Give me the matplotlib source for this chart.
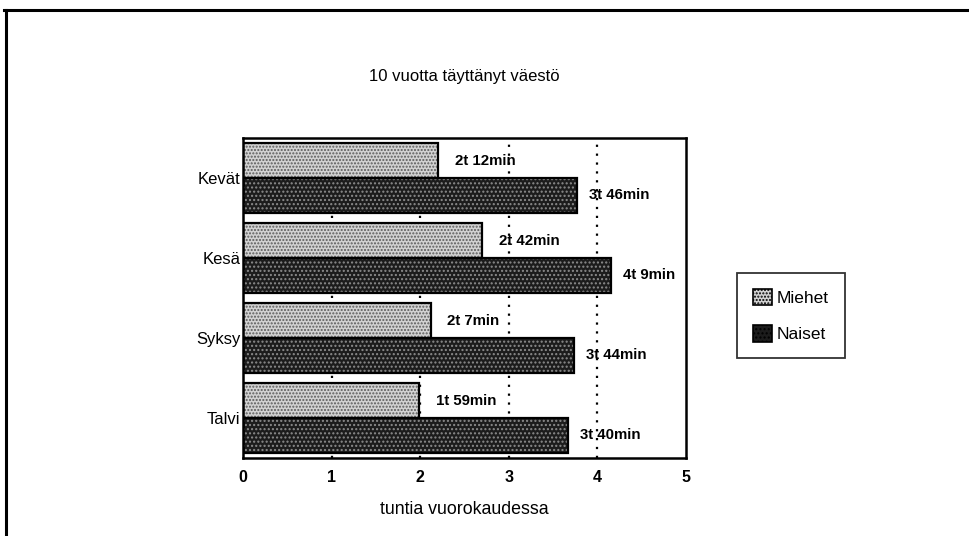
import matplotlib
matplotlib.use("Agg")
import matplotlib.pyplot as plt
from matplotlib.lines import Line2D
from matplotlib.patches import Patch
import numpy as np

plt.rcParams['font.family'] = ['Liberation Sans', 'DejaVu Sans']
plt.rcParams['hatch.linewidth'] = 1.0

categories = ["Kevät", "Kesä", "Syksy", "Talvi"]
miehet = [2.2, 2.7, 2.117, 1.983]
naiset = [3.767, 4.15, 3.733, 3.667]
miehet_labels = ["2t 12min", "2t 42min", "2t 7min", "1t 59min"]
naiset_labels = ["3t 46min", "4t 9min", "3t 44min", "3t 40min"]
xticks = [0, 1, 2, 3, 4, 5]

fig = plt.figure(figsize=(9.69, 5.36), dpi=100)
ax = fig.add_axes([243/969, 1-458/536, 443/969, 320/536])

y = np.arange(len(categories))
h = 0.435

M_FACE, M_HATCH = '#d2d2d2', '#5a5a5a'
N_FACE, N_HATCH = '#1c1c1c', '#8c8c8c'

def hbar(ys, vals, face, hatch, hcol):
    ax.barh(ys, vals, height=h, color=face, hatch=hatch, edgecolor=hcol,
            linewidth=0, zorder=2)
    ax.barh(ys, vals, height=h, facecolor='none', edgecolor='black',
            linewidth=1.6, zorder=3)

hbar(y - h/2, miehet, M_FACE, '.....', M_HATCH)
hbar(y + h/2, naiset, N_FACE, '....', N_HATCH)

for yi, v, lab in zip(y - h/2, miehet, miehet_labels):
    ax.text(v + 0.19, yi, lab, va='center', ha='left', fontsize=10.8,
            fontweight='bold', zorder=4)
for yi, v, lab in zip(y + h/2, naiset, naiset_labels):
    ax.text(v + 0.14, yi, lab, va='center', ha='left', fontsize=10.8,
            fontweight='bold', zorder=4)

ax.set_xlim(0, 5)
ax.set_ylim(3.5, -0.5)
ax.set_xticks(xticks)
ax.set_xticklabels([str(t) for t in xticks], fontsize=11.5, fontweight='bold')
ax.set_yticks(y)
ax.set_yticklabels(categories, fontsize=12)
ax.tick_params(axis='x', length=0, pad=9)
ax.tick_params(axis='y', length=0, pad=2)
for x in xticks[1:-1]:
    ax.axvline(x, color='black', linestyle=(0, (1, 3)), linewidth=1.6, zorder=1)
for s in ax.spines.values():
    s.set_linewidth(1.8)

ax.set_xlabel("tuntia vuorokaudessa", fontsize=12.8, labelpad=11)
ax.set_title("10 vuotta täyttänyt väestö", fontsize=12, pad=41)

handles = [Patch(facecolor=M_FACE, hatch='.....', edgecolor='black', linewidth=1.2),
           Patch(facecolor=N_FACE, hatch='....', edgecolor='black', linewidth=1.2)]
leg = fig.legend(handles, ["Miehet", "Naiset"], loc='upper left',
                 bbox_to_anchor=(737/969, 1-273/536), fontsize=12.5,
                 frameon=True, fancybox=False, edgecolor='black',
                 handlelength=1.1, handleheight=1.1, handletextpad=0.3,
                 borderpad=0.9, labelspacing=1.1, borderaxespad=0)
leg.get_frame().set_linewidth(1.3)

# outer frame (top and left visible)
fig.add_artist(Line2D([4/969, 1.0], [1-10/536, 1-10/536], transform=fig.transFigure,
                      color='black', linewidth=2.2))
fig.add_artist(Line2D([6/969, 6/969], [1-10/536, 0], transform=fig.transFigure,
                      color='black', linewidth=2.2))

fig.savefig("out.png", dpi=100)
